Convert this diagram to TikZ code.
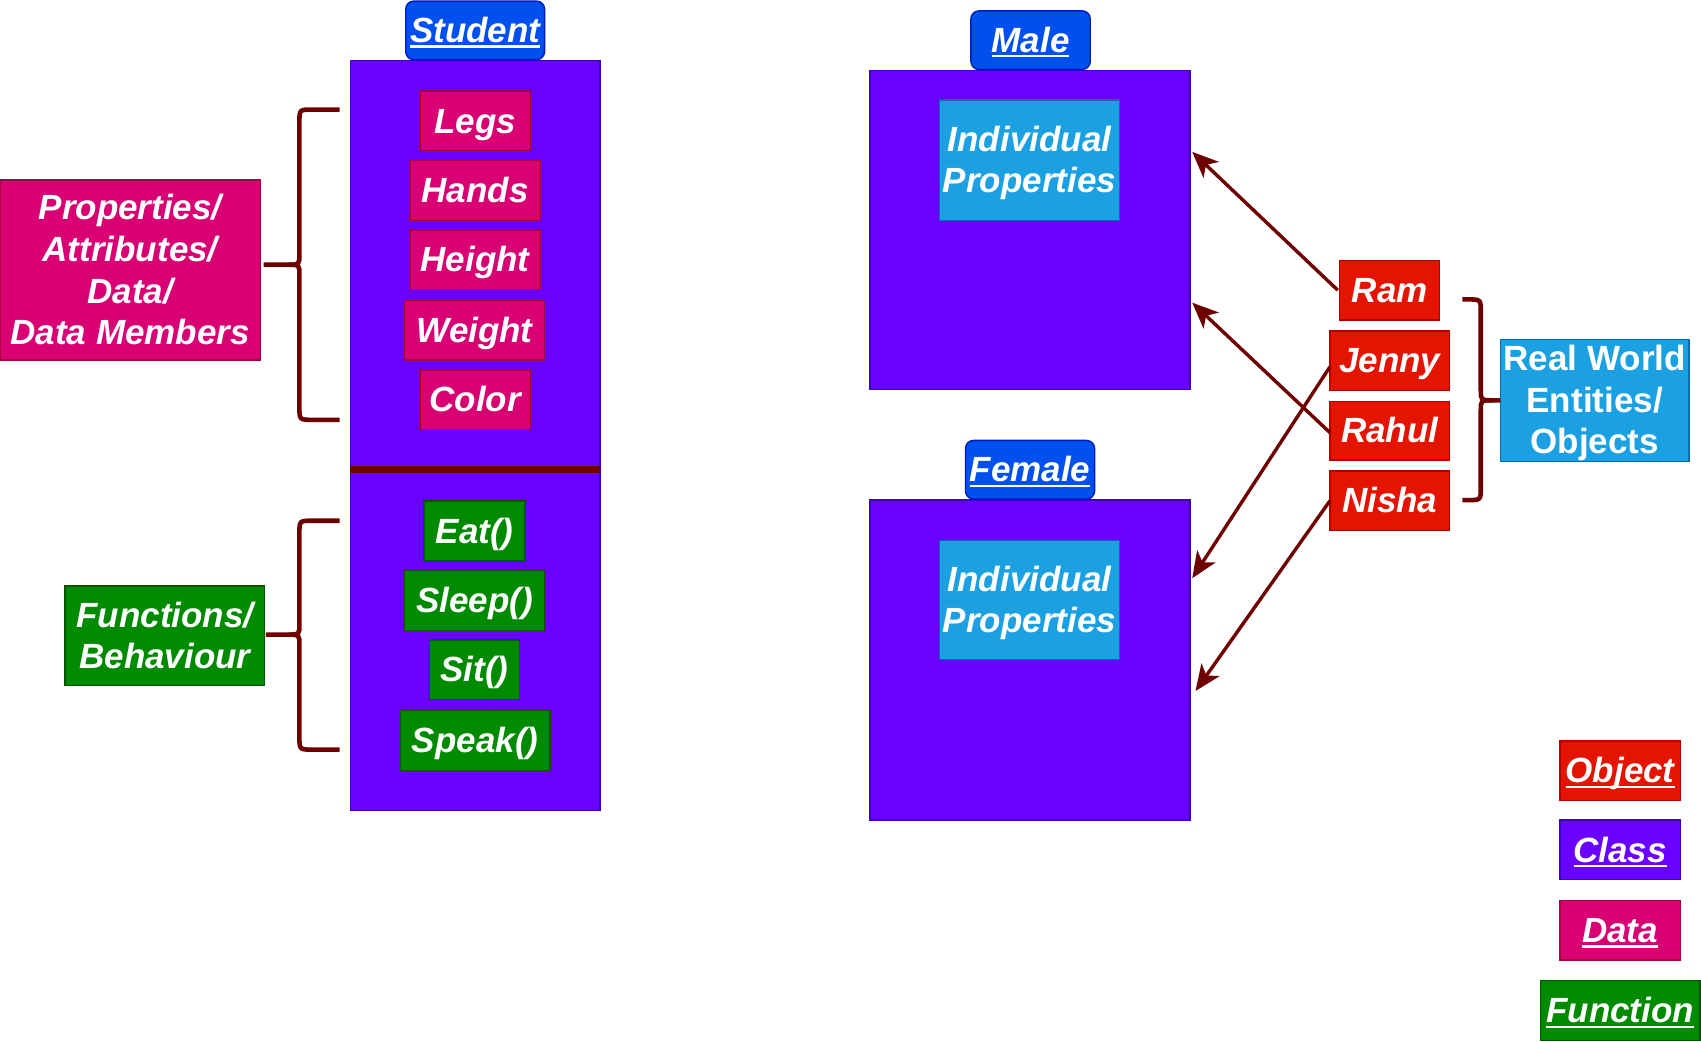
\documentclass[tikz,border=0pt]{standalone}
\usepackage{fontspec}
\setmainfont{Liberation Sans}
\usetikzlibrary{arrows.meta}
\definecolor{lblf}{HTML}{0050EF}
\definecolor{lbld}{HTML}{001DBC}
\definecolor{clsf}{HTML}{6A00FF}
\definecolor{clsd}{HTML}{3700CC}
\definecolor{datf}{HTML}{D80073}
\definecolor{datd}{HTML}{A50040}
\definecolor{funf}{HTML}{008A00}
\definecolor{fund}{HTML}{005700}
\definecolor{objf}{HTML}{E51400}
\definecolor{objd}{HTML}{B20000}
\definecolor{infof}{HTML}{1BA1E2}
\definecolor{infod}{HTML}{006EAF}
\definecolor{dred}{HTML}{6F0000}
\newcommand\ulx[1]{\setbox0\hbox{#1}\rlap{\rule[-2.6pt]{\wd0}{1.1pt}}\box0}
\newcommand\st{\rule[-3.7pt]{0pt}{19.5pt}}
\newcommand\bx[7]{\node[#1, minimum width={(#5-#3)*0.5425pt}, minimum height={(#6-#4)*0.5425pt}] (#2) at ({(#3+#5)/2},{(#4+#6)/2}) {\st#7\st};}
\begin{document}
\begin{tikzpicture}[x=0.5425pt,y=-0.5425pt,
  base/.style={inner sep=0pt, outer sep=0pt, font=\bfseries\itshape\fontsize{17.5}{20.8}\selectfont, text=white, align=center, line width=0.7pt},
  lbl/.style={base, fill=lblf, draw=lbld, rounded corners=4pt},
  cls/.style={base, fill=clsf, draw=clsd},
  dat/.style={base, fill=datf, draw=datd},
  fun/.style={base, fill=funf, draw=fund},
  obj/.style={base, fill=objf, draw=objd},
  info/.style={base, fill=infof, draw=infod},
  upright/.style={font=\bfseries\fontsize{17.5}{20.8}\selectfont},
  brace/.style={draw=dred, line width=2.3pt},
  arr/.style={draw=dred, line width=1.7pt, -{Stealth[length=13pt,width=11pt,inset=3.5pt]}},
]
\useasboundingbox (0,0) rectangle (1568,960);

% Student class
\bx{cls}{stud}{323}{56}{553}{747}{}
\bx{lbl}{studl}{374}{1}{502}{55}{\ulx{Student}}
\draw[draw=dred, line width=3.6pt] (323,433) -- (553,433);
\bx{dat}{legs}{387}{84}{489}{139}{Legs}
\bx{dat}{hands}{378}{148}{498}{203}{Hands}
\bx{dat}{height}{378}{212}{498}{267}{Height}
\bx{dat}{weight}{373}{277}{502}{332}{Weight}
\bx{dat}{color}{387}{341}{489}{396}{Color}
\bx{fun}{eat}{391}{462}{484}{517}{Eat()}
\bx{fun}{sleep}{373}{526}{502}{581}{Sleep()}
\bx{fun}{sit}{396}{590}{479}{645}{Sit()}
\bx{fun}{speak}{369}{655}{507}{710}{Speak()}

\bx{dat}{props}{0}{166}{240}{332}{Properties/\\Attributes/\\Data/\\Data Members}
\bx{fun}{funcs}{60}{540}{244}{632}{Functions/\\Behaviour}

% braces
\draw[brace] (313,101) -- (288,101) .. controls (276,101) .. (276,113) -- (276,234) .. controls (276,244) .. (266,244) -- (243,244);
\draw[brace] (266,244) .. controls (276,244) .. (276,254) -- (276,375) .. controls (276,387) .. (288,387) -- (313,387);
\draw[brace] (313,480) -- (288,480) .. controls (276,480) .. (276,492) -- (276,575) .. controls (276,585) .. (266,585) -- (245,585);
\draw[brace] (266,585) .. controls (276,585) .. (276,595) -- (276,679) .. controls (276,691) .. (288,691) -- (313,691);

% Male / Female
\bx{cls}{male}{802}{65}{1097}{359}{}
\bx{lbl}{malel}{895}{10}{1005}{64}{\ulx{Male}}
\bx{info}{mprop}{866}{92}{1032}{203}{Individual\\Properties}
\bx{cls}{female}{802}{461}{1097}{756}{}
\bx{lbl}{femalel}{890}{406}{1009}{460}{\ulx{Female}}
\bx{info}{fprop}{866}{498}{1032}{608}{Individual\\Properties}

% objects
\bx{obj}{ram}{1235}{240}{1327}{295}{Ram}
\bx{obj}{jenny}{1226}{305}{1336}{360}{Jenny}
\bx{obj}{rahul}{1226}{370}{1336}{424}{Rahul}
\bx{obj}{nisha}{1226}{434}{1336}{489}{Nisha}
\bx{info,upright}{real}{1383}{314}{1557}{424}{Real World\\Entities/\\Objects}

\draw[brace] (1348,276) -- (1353,276) .. controls (1365,276) .. (1365,288) -- (1365,359) .. controls (1365,369) .. (1375,369) -- (1383,369);
\draw[brace] (1375,369) .. controls (1365,369) .. (1365,379) -- (1365,449) .. controls (1365,461) .. (1353,461) -- (1348,461);

% arrows
\coordinate (m1) at (1099,140);
\coordinate (m2) at (1099,279);
\coordinate (f1) at (1099,533);
\coordinate (f2) at (1102,637);
\draw[arr] ([xshift=-1pt]ram.west) -- (m1);
\draw[arr] ([yshift=-1pt]rahul.west) -- (m2);
\draw[arr] ([yshift=-3pt]jenny.west) -- (f1);
\draw[arr] (nisha.west) -- (f2);

% legend
\bx{obj}{lgobj}{1438}{683}{1549}{738}{\ulx{Object}}
\bx{cls}{lgcls}{1438}{756}{1549}{811}{\ulx{Class}}
\bx{dat}{lgdat}{1438}{830}{1549}{885}{\ulx{Data}}
\bx{fun}{lgfun}{1420}{904}{1567}{959}{\ulx{Function}}
\end{tikzpicture}
\end{document}
